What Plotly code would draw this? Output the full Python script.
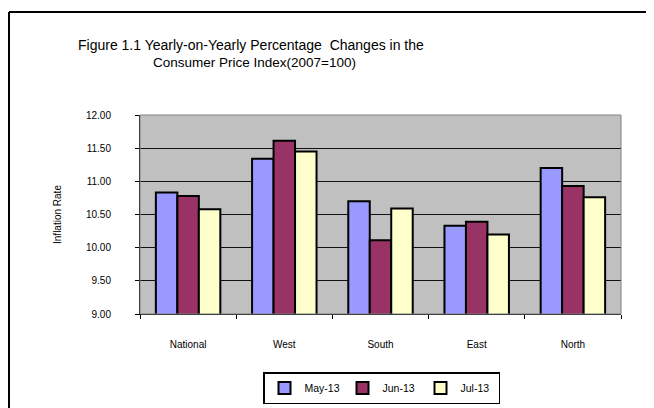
import plotly.graph_objects as go

categories = ["National", "West", "South", "East", "North"]
may_13 = [10.83, 11.34, 10.70, 10.33, 11.20]
jun_13 = [10.78, 11.61, 10.11, 10.39, 10.93]
jul_13 = [10.58, 11.45, 10.59, 10.20, 10.76]
series_names = ["May-13", "Jun-13", "Jul-13"]
y_ticks = [9.0, 9.5, 10.0, 10.5, 11.0, 11.5, 12.0]
y_tick_labels = ["9.00", "9.50", "10.00", "10.50", "11.00", "11.50", "12.00"]

colors = ["#9999FF", "#993366", "#FFFFCC"]
FONT = "Liberation Sans, Arial, sans-serif"

# page body has an 8px default margin; work in screen coordinates
OFF = 8
W, H = 646, 400
SL, SR, ST, SB = 140, 621, 115, 314   # plot area in screen px
L = SL - OFF
T = ST - OFF
R = W - (SR - OFF)
B = H - (SB - OFF)
pw = W - L - R
ph = H - T - B

def px(x):
    return (x - OFF - L) / pw

def py(y):
    return (H - B - (y - OFF)) / ph

def cx(x):
    return (x - OFF) / W

def cy(y):
    return 1 - (y - OFF) / H

fig = go.Figure()
for name, vals, col in zip(series_names, [may_13, jun_13, jul_13], colors):
    fig.add_trace(go.Bar(
        x=categories, y=vals, name=name,
        marker=dict(color=col, line=dict(color="black", width=2)),
    ))

fig.update_layout(
    width=W, height=H,
    margin=dict(l=L, r=R, t=T, b=B, pad=0, autoexpand=False),
    paper_bgcolor="white",
    plot_bgcolor="#C0C0C0",
    barmode="group",
    bargap=0.33,
    bargroupgap=0.0,
    font=dict(family=FONT, size=10, color="black"),
    showlegend=True,
    legend=dict(
        orientation="h",
        xref="container", yref="container",
        x=cx(263), y=cy(372), xanchor="left", yanchor="top",
        bordercolor="black", borderwidth=1.5,
        bgcolor="white",
        font=dict(size=10.5, family=FONT),
        entrywidth=33, entrywidthmode="pixels",
        itemwidth=30,
    ),
    xaxis=dict(
        showgrid=False,
        showline=True, linecolor="black", linewidth=1,
        ticks="outside", ticklen=4, tickcolor="black",
        tickson="boundaries",
        ticklabelstandoff=21,
        tickfont=dict(size=10, family=FONT),
        automargin=False,
    ),
    yaxis=dict(
        range=[9.0, 12.0],
        tickvals=y_ticks, ticktext=y_tick_labels,
        showgrid=True, gridcolor="#111111", gridwidth=1.3,
        showline=True, linecolor="black", linewidth=1,
        ticks="outside", ticklen=4, tickcolor="black",
        ticklabelstandoff=22,
        tickfont=dict(size=10, family=FONT),
        zeroline=False,
        automargin=False,
        title=dict(text="Inflation Rate", font=dict(size=10, family=FONT), standoff=22),
    ),
    annotations=[
        dict(text="Figure 1.1 Yearly-on-Yearly Percentage  Changes in the",
             x=px(251), y=py(45), xref="paper", yref="paper",
             xanchor="center", yanchor="middle",
             showarrow=False, font=dict(size=14, family=FONT)),
        dict(text="Consumer Price Index(2007=100)",
             x=px(254), y=py(62), xref="paper", yref="paper",
             xanchor="center", yanchor="middle",
             showarrow=False, font=dict(size=13.5, family=FONT)),
    ],
    shapes=[
        dict(type="line", xref="paper", yref="paper",
             x0=px(9), x1=px(655), y0=py(12), y1=py(12),
             line=dict(color="black", width=2)),
        dict(type="line", xref="paper", yref="paper",
             x0=px(9), x1=px(9), y0=py(12), y1=py(410),
             line=dict(color="black", width=2)),
        dict(type="rect", xref="paper", yref="paper",
             x0=0, x1=1, y0=0, y1=1,
             line=dict(color="#808080", width=1)),
    ],
)

fig.write_html("out.html")
